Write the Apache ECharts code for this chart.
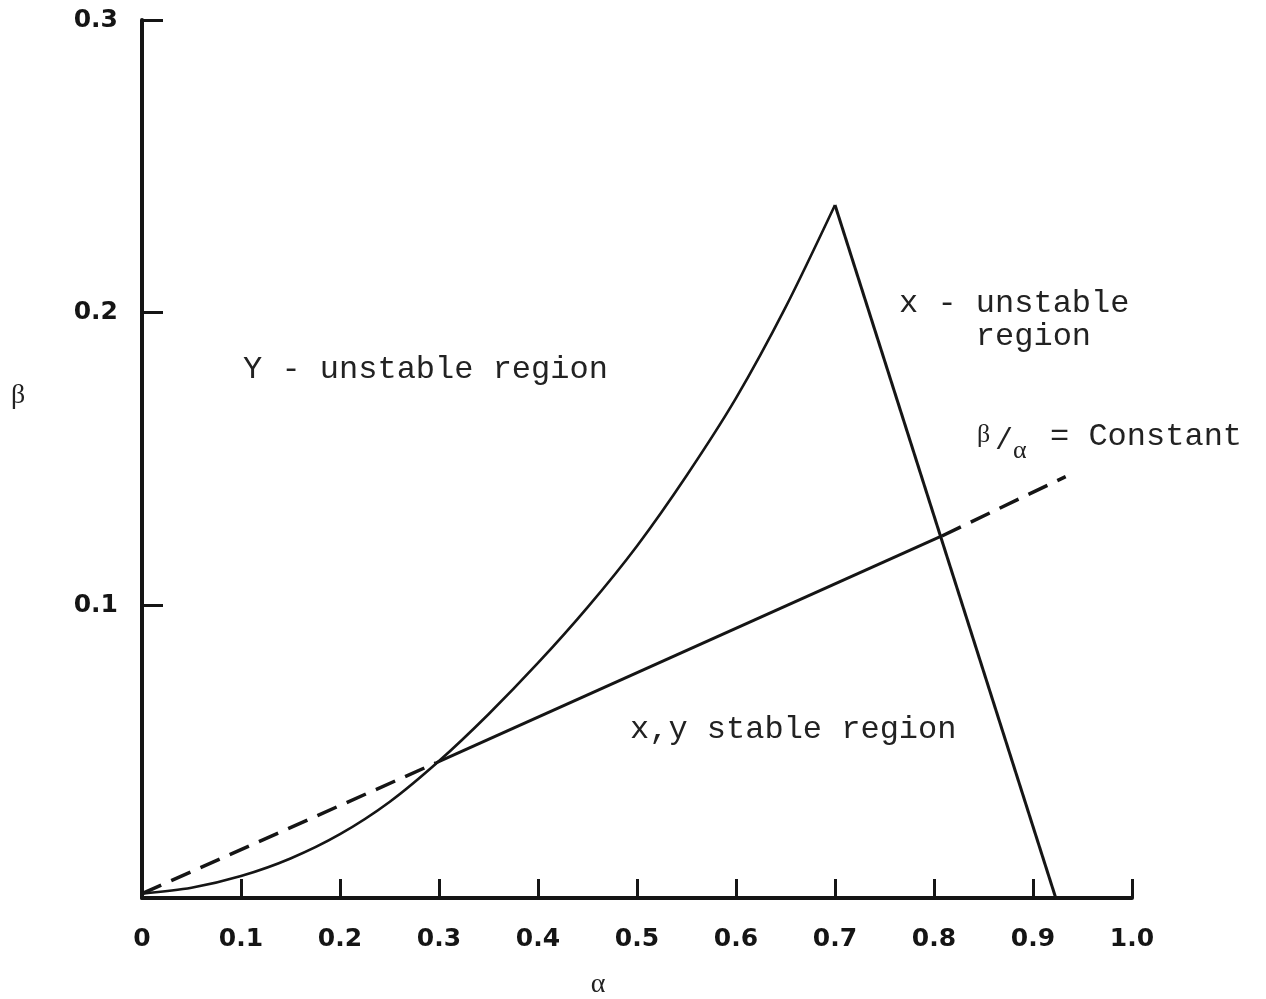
<!DOCTYPE html>
<html>
<head>
<meta charset="utf-8">
<script src="https://cdn.jsdelivr.net/npm/echarts@6/dist/echarts.min.js"></script>
<style>
html,body{margin:0;padding:0;background:#fff;}
#chart{width:1266px;height:999px;}
</style>
</head>
<body>
<div id="chart"></div>
<script>
// ---- data ----
const xTickValues = [0, 0.1, 0.2, 0.3, 0.4, 0.5, 0.6, 0.7, 0.8, 0.9, 1.0];
const yTickValues = [0.1, 0.2, 0.3];

// Y-stability boundary (curved, solid)
const curveAlpha = [0, 0.05, 0.1, 0.15, 0.2, 0.25, 0.3, 0.35, 0.4, 0.45, 0.5, 0.55, 0.6, 0.65, 0.7];
const curveBeta  = [0.0015, 0.0035, 0.0075, 0.0135, 0.0218, 0.0328, 0.0468, 0.0628, 0.0803, 0.0993, 0.1203, 0.1443, 0.1708, 0.2018, 0.2368];

// X-stability boundary (straight, solid)
const xBoundAlpha = [0.7, 0.923];
const xBoundBeta  = [0.2368, 0];

// beta/alpha = constant line: dashed, solid, dashed
const ratioAlpha = [0, 0.297, 0.808, 0.933];
const ratioBeta  = [0.0015, 0.0462, 0.1237, 0.144];

const regionLabels = ['Y - unstable region', 'x - unstable\n    region', 'x,y stable region'];
const ratioLabel = ['\u03B2', '/', '\u03B1', '= Constant'];
const axisNames = ['\u03B1', '\u03B2'];

// ---- build ----
const zip = (a, b) => a.map((v, i) => [v, b[i]]);
const ink = '#151515';
const textInk = '#222222';
const mono = '"Liberation Mono", "Courier New", monospace';
const sans = '"DejaVu Sans", "Liberation Sans", Arial, sans-serif';
const serif = '"Liberation Serif", "DejaVu Serif", serif';

const ratioPts = zip(ratioAlpha, ratioBeta);

const chart = echarts.init(document.getElementById('chart'), null, {renderer: 'canvas'});
chart.setOption({
  backgroundColor: '#ffffff',
  animation: false,
  grid: {left: 142, top: 20, width: 990, height: 878, containLabel: false},
  xAxis: {
    type: 'value', min: 0, max: 1, interval: 0.1,
    axisLine: {show: true, onZero: false, lineStyle: {color: ink, width: 4}},
    axisTick: {show: true, inside: true, length: 19, lineStyle: {color: ink, width: 3},
      customValues: xTickValues},
    axisLabel: {
      color: ink, fontFamily: sans, fontWeight: 'bold', fontSize: 25, margin: 29,
      customValues: xTickValues,
      formatter: v => (v === 0 ? '0' : v.toFixed(1))
    },
    splitLine: {show: false}
  },
  yAxis: {
    type: 'value', min: 0, max: 0.3, interval: 0.1,
    axisLine: {show: true, onZero: false, lineStyle: {color: ink, width: 4}},
    axisTick: {show: true, inside: true, length: 21, lineStyle: {color: ink, width: 3},
      customValues: yTickValues},
    axisLabel: {
      color: ink, fontFamily: sans, fontWeight: 'bold', fontSize: 25, margin: 24,
      customValues: yTickValues,
      formatter: v => v.toFixed(1)
    },
    splitLine: {show: false}
  },
  series: [
    {
      type: 'line', name: 'Y boundary', data: zip(curveAlpha, curveBeta),
      smooth: 0.3, showSymbol: false, lineStyle: {color: ink, width: 2.6}
    },
    {
      type: 'line', name: 'X boundary', data: zip(xBoundAlpha, xBoundBeta),
      showSymbol: false, lineStyle: {color: ink, width: 3}
    },
    {
      type: 'line', name: 'ratio dashed 1', data: ratioPts.slice(0, 2),
      showSymbol: false, lineStyle: {color: ink, width: 3.5, type: [21, 11]}
    },
    {
      type: 'line', name: 'ratio solid', data: ratioPts.slice(1, 3),
      showSymbol: false, lineStyle: {color: ink, width: 3}
    },
    {
      type: 'line', name: 'ratio dashed 2', data: ratioPts.slice(2, 4),
      showSymbol: false, lineStyle: {color: ink, width: 3.5, type: [21, 11]}
    }
  ],
  graphic: [
    {type: 'text', x: 243, y: 370, style: {text: regionLabels[0], font: '32px ' + mono, fill: textInk, verticalAlign: 'middle'}},
    {type: 'text', x: 899, y: 287, style: {text: regionLabels[1], font: '32px ' + mono, fill: textInk, verticalAlign: 'top', lineHeight: 33}},
    {type: 'text', x: 630, y: 730, style: {text: regionLabels[2], font: '32px ' + mono, fill: textInk, verticalAlign: 'middle'}},
    {type: 'text', x: 977, y: 435, style: {text: ratioLabel[0], font: '26px ' + serif, fill: textInk, verticalAlign: 'middle'}},
    {type: 'text', x: 995, y: 441, style: {text: ratioLabel[1], font: '30px ' + mono, fill: textInk, verticalAlign: 'middle'}},
    {type: 'text', x: 1013, y: 451, style: {text: ratioLabel[2], font: '26px ' + serif, fill: textInk, verticalAlign: 'middle'}},
    {type: 'text', x: 1050, y: 437, style: {text: ratioLabel[3], font: '32px ' + mono, fill: textInk, verticalAlign: 'middle'}},
    {type: 'text', x: 598, y: 985, style: {text: axisNames[0], font: '28px ' + serif, fill: textInk, align: 'center', verticalAlign: 'middle'}},
    {type: 'text', x: 18, y: 396, style: {text: axisNames[1], font: '28px ' + serif, fill: textInk, align: 'center', verticalAlign: 'middle'}}
  ]
});
</script>
</body>
</html>
